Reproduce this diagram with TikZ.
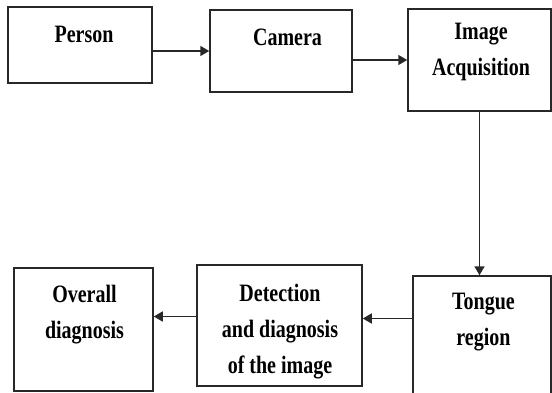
\documentclass[tikz,border=0pt]{standalone}
\usepackage{fontspec}
\setmainfont{Liberation Serif}[FakeStretch=0.8]
\usetikzlibrary{arrows.meta}
\definecolor{lineGray}{RGB}{40, 40, 40}

\begin{document}
\begin{tikzpicture}[x=1pt, y=-1pt,
    box/.style={draw=lineGray, line width=1.5pt, inner sep=0pt},
    caption/.style={inner sep=0pt, align=center, text height=17pt, text depth=5pt,
      font=\fontsize{25}{36}\selectfont\bfseries},
    flow/.style={draw=lineGray, line width=1.6pt, -{Triangle[length=9pt, width=10pt]}}]
  \useasboundingbox (0,0) rectangle (552,392);

  % top row of boxes
  \node[box, minimum width=144pt, minimum height=76pt] (person) at (80,45) {};
  \node[box, minimum width=142pt, minimum height=82pt] (camera) at (281,51) {};
  \node[box, minimum width=143pt, minimum height=102pt] (acq) at (479.5,60) {};

  % bottom row of boxes
  \node[box, minimum width=138pt, minimum height=119pt] (tongue) at (482,335.5) {};
  \node[box, minimum width=165pt, minimum height=121pt] (detect) at (279.5,325.5) {};
  \node[box, minimum width=139pt, minimum height=123pt] (overall) at (83.5,329.5) {};

  % captions sit near the top of each box (placed by their last line)
  \node[caption] (person-t) at (84,36.5) {Person};
  \node[caption] (camera-t) at (287.5,39) {Camera};
  \node[caption] (acq-t) at (481,69) {Image\\Acquisition};
  \node[caption] (tongue-t) at (483.5,339) {Tongue\\region};
  \node[caption] (detect-t) at (280,367) {Detection\\and diagnosis\\of the image};
  \node[caption] (overall-t) at (84.5,332) {Overall\\diagnosis};

  % arrows
  \draw[flow] (person.east |- camera.west) -- (camera.west);
  \draw[flow] (camera.east |- acq.west) -- (acq.west);
  \draw[flow] (acq.south) -- (acq.south |- tongue.north);
  \draw[flow] ([yshift=7pt]tongue.west |- detect.east) -- ([yshift=7pt]detect.east);
  \draw[flow] ([yshift=13pt]detect.west |- overall.east) -- ([yshift=13pt]overall.east);
\end{tikzpicture}
\end{document}
